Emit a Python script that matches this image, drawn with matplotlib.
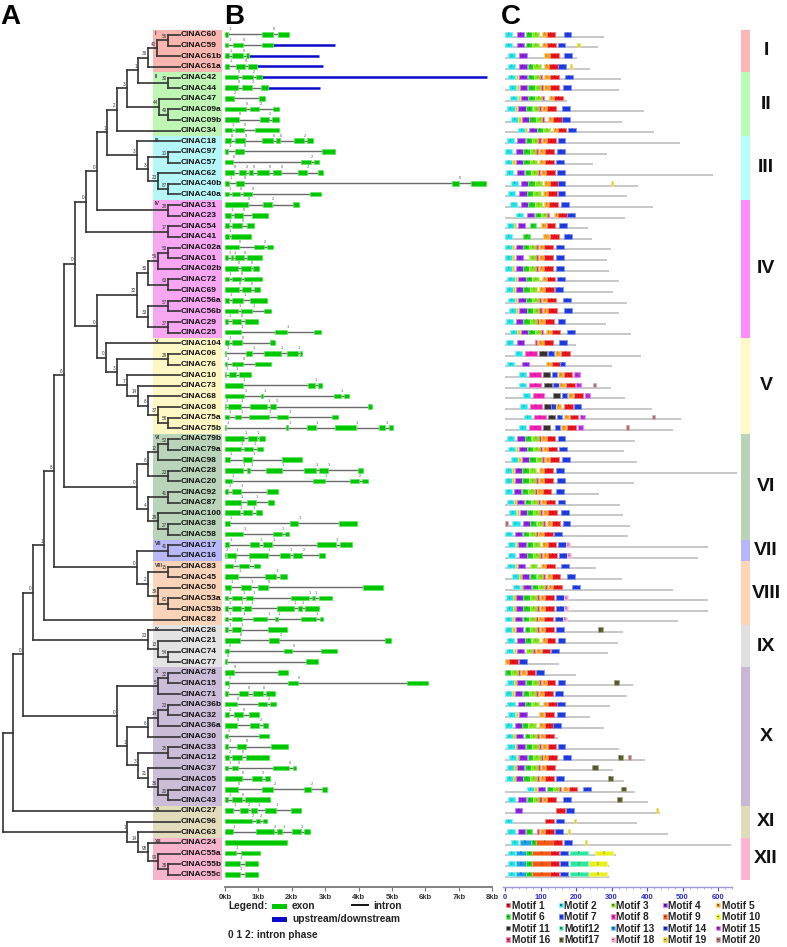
import matplotlib
matplotlib.use("Agg")
import matplotlib.pyplot as plt
from matplotlib.patches import Rectangle
from matplotlib.colors import to_rgb

plt.rcParams["font.family"] = ["Liberation Sans", "DejaVu Sans"]

W, H = 787, 947
ROW0, ROWH = 35.0, 10.63          # pixel y of first gene row, row pitch
PANEL_TOP, PANEL_BOT = 25, 887
KB0_PX, PX_PER_KB = 225.0, 33.4   # panel B scale
AA0_PX, PX_PER_AA = 505.0, 0.355  # panel C scale

# --- tree (newick-like, internal node label = "bootstrap@depth") ---
CL_I = "(((CINAC60,CINAC59)56@168,CINAC61b)40@157,CINAC61a)36@148"
CL_II = "(CINAC47,(CINAC09a,CINAC09b)49@168)44@159"
CL_III = ("(CINAC18,((CINAC97,CINAC57)10@168,(CINAC62,(CINAC40b,CINAC40a)87@168)23@158)3@148)3@137")
TOP = ("((((((" + CL_I + ",(CINAC42,CINAC44)30@168)1@138," + CL_II + ")3@127,CINAC34)2@117,"
       + CL_III + ")1@107,(CINAC31,CINAC23)28@168)0@97,(CINAC54,CINAC41)17@168)0@86")
CL_IV = ("((((CINAC02a,CINAC01)53@168,CINAC02b)59@158,(CINAC72,CINAC69)63@168)30@148,"
         "((CINAC56a,CINAC56b)57@168,(CINAC29,CINAC25)37@168)33@148)32@137")
CL_V = ("(CINAC104,((CINAC06,CINAC76)29@168,(CINAC10,(CINAC73,(CINAC68,(CINAC08,"
        "(CINAC75a,CINAC75b)58@168)37@158)6@148)14@138)7@127)3@117)0@106")
CL_VI = ("((((CINAC79b,CINAC79a)52@168,CINAC98)12@158,(CINAC28,CINAC20)23@168)6@148,"
         "((CINAC92,CINAC87)41@168,(CINAC100,(CINAC38,CINAC58)27@168)29@158)4@148)0@137")
CL_VIII = ("((CINAC17,CINAC16)41@168,((CINAC83,CINAC45)15@168,(CINAC50,"
           "(CINAC53a,CINAC53b)62@168)39@158)2@148)0@137")
CL_IX = "(CINAC26,(CINAC21,(CINAC74,CINAC77)54@168)13@158)23@148"
CL_X = ("(((CINAC78,CINAC15)32@168,CINAC71)5@158,((((CINAC36b,CINAC32)23@168,CINAC36a)14@158,"
        "CINAC30)6@148,((CINAC33,CINAC12)25@168,(CINAC37,(CINAC05,(CINAC07,CINAC43)20@168)36@158)"
        "21@148)3@138)1@127)0@117")
CL_XII = ("(CINAC96,(CINAC63,(CINAC24,(CINAC55a,(CINAC55b,CINAC55c)35@168)99@158)98@148)14@138)1@127")
TREE = ("((((((((" + TOP + ",(" + CL_IV + "," + CL_V + ")0@97)0@75," + CL_VI + ")6@64," + CL_VIII
        + ")8@54,CINAC82)1@44," + CL_IX + ")0@33," + CL_X + ")0@23,CINAC27)@13," + CL_XII + ")@3")
LEAF_X = 180

GROUPS = ["I", "II", "III", "IV", "V", "VI", "VII", "VIII", "IX", "X", "XI", "XII"]
GROUP_SIZES = [4, 6, 6, 13, 9, 10, 2, 6, 4, 13, 3, 4]
TREE_BG = ["#f9b5b0", "#bff5b5", "#b5f6f6", "#f7a6f2", "#fdf7c4", "#bad4ba",
           "#b8b8f8", "#f9d4b8", "#e3e3e3", "#cbbcd8", "#e2dcbc", "#f7b3cc"]
BAR_COLORS = ["#ffb6b6", "#b8fdb8", "#b8fcfc", "#ff8cfc", "#fffac4", "#b9d3b9",
              "#b6b6fc", "#fdd4b8", "#e0e0e0", "#c8b8d6", "#e0dcb8", "#fdb6d2"]

# --- panel B: exons (kb), intron phases, upstream/downstream (kb) ---
EXONS = {
    "CINAC60": [(0, .1), (1.1, 1.43), (1.58, 1.93)],
    "CINAC59": [(0, .1), (.25, .53), (1.12, 1.45)],
    "CINAC61b": [(0, .13), (.22, .53), (.63, .73)],
    "CINAC61a": [(0, .13), (.33, .6), (.7, .97)],
    "CINAC42": [(0, .4), (.52, .83), (.92, 1.1)],
    "CINAC44": [(0, .4), (.5, .8), (1.08, 1.28)],
    "CINAC47": [(0, .27), (1.02, 1.2)],
    "CINAC09a": [(0, .63), (.75, 1.03), (1.45, 1.63)],
    "CINAC09b": [(0, .43), (1.05, 1.32), (1.41, 1.62)],
    "CINAC34": [(0, .2), (.3, .57), (.9, 1.63)],
    "CINAC18": [(0, .18), (.3, .6), (1.12, 1.45), (1.53, 1.65), (2.08, 2.37), (2.45, 2.62)],
    "CINAC97": [(0, .1), (.29, .57), (2.9, 3.3)],
    "CINAC57": [(0, .25), (2.28, 2.58), (2.65, 2.8)],
    "CINAC62": [(0, .28), (.43, .63), (.73, .83), (.97, 1.33), (1.43, 1.68), (2.18, 2.45), (2.77, 2.93)],
    "CINAC40b": [(0, .13), (.32, .57), (6.8, 7.0), (7.37, 7.82)],
    "CINAC40a": [(0, .12), (.22, .45), (.55, .82), (2.55, 2.87)],
    "CINAC31": [(0, .7), (1.13, 1.4), (2.03, 2.23)],
    "CINAC23": [(0, .18), (.28, .55), (.8, 1.28)],
    "CINAC54": [(0, .12), (.22, .52), (.65, .88)],
    "CINAC41": [(0, .12), (.18, .77)],
    "CINAC02a": [(0, .42), (.87, 1.17), (1.27, 1.43)],
    "CINAC01": [(0, .1), (.18, .25), (.3, .58), (.67, 1.1)],
    "CINAC02b": [(0, .4), (.48, .77), (.85, 1.02)],
    "CINAC72": [(0, .12), (.22, .48), (.58, 1.1)],
    "CINAC69": [(0, .42), (.5, .78), (.88, 1.05)],
    "CINAC56a": [(0, .13), (.22, .55), (.75, 1.27)],
    "CINAC56b": [(0, .4), (.48, .82), (1.18, 1.37)],
    "CINAC29": [(0, .1), (.2, .48), (.6, 1.0)],
    "CINAC25": [(0, .47), (1.5, 1.85), (2.66, 2.87)],
    "CINAC104": [(0, .12), (.22, .52), (1.35, 1.5)],
    "CINAC06": [(0, .04), (.63, .82), (1.17, 1.68), (1.85, 2.18), (2.25, 2.32)],
    "CINAC76": [(0, .06), (.22, .53), (.9, 1.38)],
    "CINAC10": [(0, .03), (.13, .32), (.42, .77)],
    "CINAC73": [(0, .53), (2.48, 2.68), (2.77, 2.9)],
    "CINAC68": [(0, .58), (1.08, 1.15), (3.27, 3.47), (3.55, 3.7)],
    "CINAC08": [(0, .04), (.1, .48), (.75, 1.27), (1.35, 1.53), (4.27, 4.4)],
    "CINAC75a": [(0, .12), (.3, .48), (.73, 1.32), (1.55, 1.9), (3.2, 3.37)],
    "CINAC75b": [(0, .04), (1.83, 1.9), (2.46, 2.72), (3.28, 3.93), (4.62, 4.8), (4.91, 5.03)],
    "CINAC79b": [(0, .58), (.68, .95), (1.03, 1.2)],
    "CINAC79a": [(0, .48), (.58, .85), (.95, 1.15)],
    "CINAC98": [(0, .15), (.53, .82), (1.7, 2.32)],
    "CINAC28": [(0, .53), (.65, .76), (1.22, 1.7), (2.38, 2.72), (2.8, 3.08), (3.98, 4.13)],
    "CINAC20": [(0, .2), (2.63, 3.0), (3.73, 4.02), (4.1, 4.27)],
    "CINAC92": [(0, .1), (.2, .48), (1.25, 1.6)],
    "CINAC87": [(0, .47), (.65, .93), (1.3, 1.47)],
    "CINAC100": [(0, .45), (.55, .82), (.92, 1.1)],
    "CINAC38": [(0, .15), (1.95, 2.2), (3.4, 3.95)],
    "CINAC58": [(0, .55), (1.43, 1.7), (1.8, 1.93)],
    "CINAC17": [(0, .13), (.75, 1.03), (1.15, 1.42), (2.75, 3.32), (3.45, 3.8)],
    "CINAC16": [(0, .02), (.05, .32), (.72, 1.28), (1.65, 1.95), (2.03, 2.32), (2.8, 2.98)],
    "CINAC83": [(0, .25), (.43, .72), (.87, 1.05)],
    "CINAC45": [(0, .4), (1.2, 1.53), (1.65, 1.87)],
    "CINAC50": [(0, .18), (.48, .78), (1.0, 1.3), (4.13, 4.73)],
    "CINAC53a": [(0, .1), (.22, .52), (.63, .83), (1.98, 2.52), (2.6, 2.7), (2.8, 3.2)],
    "CINAC53b": [(0, .1), (.2, .48), (.57, .77), (1.55, 2.07), (2.19, 2.3), (2.4, 2.82)],
    "CINAC82": [(0, .1), (.22, .52), (.85, 1.27), (1.5, 1.58), (2.28, 2.73), (2.85, 2.92)],
    "CINAC26": [(0, .1), (.2, .48), (1.28, 1.85)],
    "CINAC21": [(0, .45), (1.33, 1.63), (4.8, 4.97)],
    "CINAC74": [(0, .13), (1.78, 2.02), (2.88, 3.35)],
    "CINAC77": [(0, .07), (2.43, 2.77)],
    "CINAC78": [(0, .27), (1.6, 1.88)],
    "CINAC15": [(0, .13), (1.9, 2.18), (5.45, 6.07)],
    "CINAC71": [(0, .1), (.42, .7), (.83, 1.15), (1.23, 1.5)],
    "CINAC36b": [(0, .37), (1.0, 1.27), (1.35, 1.53)],
    "CINAC32": [(0, .13), (.28, .55), (.72, 1.02)],
    "CINAC36a": [(0, .35), (.75, 1.03), (1.13, 1.28)],
    "CINAC30": [(0, .1), (1.02, 1.32)],
    "CINAC33": [(0, .1), (.35, .63), (1.37, 1.88)],
    "CINAC12": [(0, .13), (.22, .5), (.62, 1.33)],
    "CINAC37": [(0, .1), (.2, .38), (1.43, 1.92), (2.03, 2.12)],
    "CINAC05": [(0, .52), (.82, 1.1), (1.2, 1.35)],
    "CINAC07": [(0, .38), (1.12, 1.45), (2.38, 2.57), (2.9, 3.05)],
    "CINAC43": [(0, .1), (.22, .5), (.6, 1.35)],
    "CINAC27": [(0, .25), (.45, .68), (.78, .97), (1.2, 1.53), (1.98, 2.27)],
    "CINAC96": [(0, .8), (.92, 1.05), (1.15, 1.27)],
    "CINAC63": [(0, .23), (.93, 1.47), (1.57, 1.72), (2.02, 2.27), (2.37, 2.53)],
    "CINAC24": [(0, 1.87)],
    "CINAC55a": [(0, .33), (.48, 1.05)],
    "CINAC55b": [(0, .45), (.6, 1.0)],
    "CINAC55c": [(0, .45), (.6, 1.0)],
}
PHASES = {
    "CINAC60": "10", "CINAC59": "10", "CINAC61b": "10", "CINAC61a": "10", "CINAC42": "02",
    "CINAC44": "02", "CINAC47": "2", "CINAC09a": "02", "CINAC09b": "02", "CINAC34": "10",
    "CINAC18": "00002", "CINAC97": "10", "CINAC57": "02", "CINAC62": "020002", "CINAC40b": "100",
    "CINAC40a": "100", "CINAC31": "02", "CINAC23": "10", "CINAC54": "10", "CINAC41": "1",
    "CINAC02a": "02", "CINAC01": "110", "CINAC02b": "00", "CINAC72": "10", "CINAC69": "00",
    "CINAC56a": "11", "CINAC56b": "11", "CINAC29": "10", "CINAC25": "11", "CINAC104": "10",
    "CINAC06": "1111", "CINAC76": "10", "CINAC10": "11", "CINAC73": "11", "CINAC68": "111",
    "CINAC08": "2112", "CINAC75a": "1111", "CINAC75b": "11111", "CINAC79b": "11", "CINAC79a": "11",
    "CINAC98": "11", "CINAC28": "11111", "CINAC20": "112", "CINAC92": "11", "CINAC87": "11",
    "CINAC100": "11", "CINAC38": "11", "CINAC58": "11", "CINAC17": "1111", "CINAC16": "21112",
    "CINAC83": "11", "CINAC45": "11", "CINAC50": "110", "CINAC53a": "11111", "CINAC53b": "11111",
    "CINAC82": "11111", "CINAC26": "11", "CINAC21": "02", "CINAC74": "20", "CINAC77": "0",
    "CINAC78": "0", "CINAC15": "20", "CINAC71": "200", "CINAC36b": "02", "CINAC32": "20",
    "CINAC36a": "02", "CINAC30": "2", "CINAC33": "10", "CINAC12": "20", "CINAC37": "100",
    "CINAC05": "02", "CINAC07": "022", "CINAC43": "10", "CINAC27": "1211", "CINAC96": "22",
    "CINAC63": "1212", "CINAC24": "", "CINAC55a": "1", "CINAC55b": "1", "CINAC55c": "1",
}
FLANK = {"CINAC59": (1.45, 3.3), "CINAC61b": (.73, 2.8), "CINAC61a": (.97, 2.93),
         "CINAC42": (1.1, 7.83), "CINAC44": (1.28, 2.85)}

# --- panel C: protein length (aa) and motif hits "motif:start" ---
MOTIF_COLORS = ["#e8141b", "#22e4e8", "#88e41c", "#8a22e0", "#f8a820", "#1ed21e", "#1e3ce0",
                "#f020b4", "#f25a14", "#e8f020", "#3a3232", "#2ee8a0", "#1ea0e8", "#2240f0",
                "#c030e0", "#e8306c", "#5e5e2e", "#f0a4d4", "#e8c818", "#b06e6e"]
MOTIF_WIDTH = [24, 20, 20, 21, 15, 18, 22, 33, 50, 50, 20, 50, 30, 15, 15, 6, 15, 12, 7, 8]
PROT_LEN = {
    "CINAC60": 280, "CINAC59": 261, "CINAC61b": 202, "CINAC61a": 240, "CINAC42": 326,
    "CINAC44": 320, "CINAC47": 174, "CINAC09a": 392, "CINAC09b": 329, "CINAC34": 420,
    "CINAC18": 494, "CINAC97": 286, "CINAC57": 247, "CINAC62": 585, "CINAC40b": 376,
    "CINAC40a": 343, "CINAC31": 416, "CINAC23": 338, "CINAC54": 235, "CINAC41": 244,
    "CINAC02a": 298, "CINAC01": 287, "CINAC02b": 294, "CINAC72": 322, "CINAC69": 303,
    "CINAC56a": 343, "CINAC56b": 320, "CINAC29": 285, "CINAC25": 355, "CINAC104": 200,
    "CINAC06": 383, "CINAC76": 301, "CINAC10": 211, "CINAC73": 299, "CINAC68": 338,
    "CINAC08": 414, "CINAC75a": 496, "CINAC75b": 473, "CINAC79b": 365, "CINAC79a": 334,
    "CINAC98": 371, "CINAC28": 653, "CINAC20": 364, "CINAC92": 265, "CINAC87": 324,
    "CINAC100": 332, "CINAC38": 353, "CINAC58": 346, "CINAC17": 571, "CINAC16": 545,
    "CINAC83": 257, "CINAC45": 329, "CINAC50": 473, "CINAC53a": 571, "CINAC53b": 571,
    "CINAC82": 486, "CINAC26": 331, "CINAC21": 318, "CINAC74": 289, "CINAC77": 152,
    "CINAC78": 199, "CINAC15": 360, "CINAC71": 343, "CINAC36b": 296, "CINAC32": 240,
    "CINAC36a": 279, "CINAC30": 150, "CINAC33": 322, "CINAC12": 393, "CINAC37": 305,
    "CINAC05": 336, "CINAC07": 367, "CINAC43": 404, "CINAC27": 438, "CINAC96": 371,
    "CINAC63": 460, "CINAC24": 636, "CINAC55a": 312, "CINAC55b": 294, "CINAC55c": 294,
}
MOTIFS = {
    "CINAC60": "2:0 4:33 6:58 3:75 5:103 1:117 7:165",
    "CINAC59": "2:0 4:33 6:58 3:75 5:103 1:119 7:148 19:204",
    "CINAC61b": "2:8 4:40 5:111 1:127 7:166",
    "CINAC61a": "2:8 4:40 6:64 3:80 5:110 1:125 7:150 19:183",
    "CINAC42": "2:9 19:31 4:40 6:64 3:83 16:99 5:111 1:127 7:169",
    "CINAC44": "2:11 19:33 4:42 6:66 3:85 16:101 5:111 1:127 7:163",
    "CINAC47": "2:14 19:36 4:44 6:66 3:85 16:103 5:124 1:138",
    "CINAC09a": "2:7 19:28 4:38 6:59 3:78 16:96 5:105 1:119 7:160",
    "CINAC09b": "2:17 19:38 4:47 6:69 3:87 16:103 5:122 1:136 7:160",
    "CINAC34": "2:38 19:56 4:68 6:89 3:108 5:134 1:148 7:177",
    "CINAC18": "2:5 4:35 6:58 3:77 16:94 5:105 1:119 7:148",
    "CINAC97": "2:0 4:30 6:52 3:70 16:87 5:97 1:113 7:146",
    "CINAC57": "2:0 19:21 4:30 6:52 3:70 5:97 1:113 7:143",
    "CINAC62": "2:3 4:33 6:55 3:73 16:92 5:101 1:116 7:146",
    "CINAC40b": "2:16 4:45 6:66 3:85 5:111 1:127 7:148 19:298",
    "CINAC40a": "2:9 4:40 6:61 3:80 5:108 1:122 7:148",
    "CINAC31": "2:14 4:44 6:66 3:85 5:111 1:125 7:157",
    "CINAC23": "2:30 4:61 6:85 3:102 16:119 5:139 1:150 7:176",
    "CINAC54": "2:7 19:25 4:36 6:70 5:101 1:117 7:153",
    "CINAC41": "2:0 6:52 5:108 1:127 7:167",
    "CINAC02a": "2:0 19:19 4:30 6:52 3:69 16:86 5:96 1:110 7:143",
    "CINAC01": "2:0 19:19 4:30 3:69 16:86 5:96 1:110 7:144",
    "CINAC02b": "2:0 19:19 4:30 6:52 3:69 16:86 5:96 1:110 7:143",
    "CINAC72": "2:7 19:28 4:38 6:59 3:75 5:103 1:117 7:146",
    "CINAC69": "2:2 19:22 4:31 6:52 3:70 5:97 1:113 7:141",
    "CINAC56a": "2:9 19:28 4:38 6:59 3:77 16:95 5:105 1:119 7:163",
    "CINAC56b": "2:11 19:31 4:40 6:61 3:80 16:97 5:108 1:122 7:167",
    "CINAC29": "2:3 4:31 6:52 3:70 16:89 5:97 1:113 7:148",
    "CINAC25": "2:14 19:35 4:44 6:66 3:85 16:102 5:116 1:132 7:176",
    "CINAC104": "2:3 4:33 16:85 5:94 1:110 7:152",
    "CINAC06": "2:28 8:56 11:97 14:122 5:141 1:158",
    "CINAC76": "2:5 4:47 5:116 1:132 14:155",
    "CINAC10": "2:40 8:68 11:108 14:132 5:149 1:166 15:195",
    "CINAC73": "2:40 8:69 11:111 14:136 5:153 1:172 15:200 20:247",
    "CINAC68": "2:50 8:78 11:136 14:160 5:177 1:195 15:224",
    "CINAC08": "2:42 8:70 11:110 14:129 5:143 1:167 7:193",
    "CINAC75a": "2:54 8:82 11:122 14:146 5:165 1:183 15:211 20:415",
    "CINAC75b": "2:40 8:69 11:108 14:141 5:158 1:176 15:205 20:341",
    "CINAC79b": "2:5 4:35 6:56 3:75 16:95 5:102 1:117 7:148",
    "CINAC79a": "2:9 19:30 4:40 6:61 3:80 16:99 5:106 1:122 7:153",
    "CINAC98": "2:16 19:38 4:47 6:68 3:87 16:103 5:113 1:127 7:160",
    "CINAC28": "2:0 19:19 4:28 6:49 3:68 5:97 1:111 7:143",
    "CINAC20": "2:0 19:19 4:28 6:49 3:68 16:87 5:97 1:111 7:146",
    "CINAC92": "2:0 4:25 6:47 3:64 16:85 5:91 1:106 7:143",
    "CINAC87": "2:5 19:26 4:33 6:55 3:72 16:92 5:101 1:116 7:148",
    "CINAC100": "2:11 19:33 4:42 6:63 3:80 16:99 5:108 1:122 7:157",
    "CINAC38": "20:0 2:21 4:50 6:70 3:89 16:108 5:117 1:132 7:162",
    "CINAC58": "2:0 4:28 6:50 3:69 16:87 5:94 1:110 7:139",
    "CINAC17": "2:9 19:31 4:38 6:61 3:78 5:105 1:120 7:150 18:172",
    "CINAC16": "2:9 4:40 6:61 3:80 16:99 5:108 1:122 7:153 18:174",
    "CINAC83": "2:7 19:28 4:36 3:70 5:101 1:116 7:158",
    "CINAC45": "2:19 19:40 4:47 6:70 3:89 16:108 5:117 1:132 7:174",
    "CINAC50": "2:23 19:45 4:52 6:75 3:94 16:113 5:120 1:136 7:188",
    "CINAC53a": "2:2 19:23 4:31 6:52 3:70 16:91 5:99 1:113 7:144 18:166",
    "CINAC53b": "2:2 19:23 4:31 6:52 3:70 16:91 5:99 1:113 7:144 18:166",
    "CINAC82": "2:0 19:19 4:28 6:50 3:69 16:87 5:94 1:110 7:141 18:163",
    "CINAC26": "2:0 19:21 4:30 6:55 3:70 16:89 5:99 1:113 7:143 17:261",
    "CINAC21": "2:5 4:35 6:56 3:75 5:103 1:117 7:148",
    "CINAC74": "2:3 19:24 4:33 3:58 16:78 5:87 1:103 7:130",
    "CINAC77": "5:0 1:12 7:39",
    "CINAC78": "6:0 3:17 16:36 5:45 1:61 7:87",
    "CINAC15": "2:5 19:26 4:35 6:59 3:75 16:96 5:103 1:117 7:148 17:307",
    "CINAC71": "2:0 19:19 4:28 6:52 3:69 16:86 5:96 1:111 7:141",
    "CINAC36b": "2:7 4:38 6:56 3:75 5:108 1:122 7:146",
    "CINAC32": "2:9 19:30 4:40 5:96 1:113 7:146",
    "CINAC36a": "2:0 4:28 6:49 3:66 5:97 1:113 7:136",
    "CINAC30": "2:2 19:23 4:31 6:55 3:70 16:91 5:99 1:113",
    "CINAC33": "2:7 19:28 4:35 6:59 3:75 16:96 5:103 1:120 7:148",
    "CINAC12": "2:11 19:33 4:40 6:64 3:80 16:100 5:108 1:122 7:163 17:318 20:346",
    "CINAC37": "2:5 19:26 4:33 6:56 3:73 16:92 5:101 1:116 17:246",
    "CINAC05": "2:2 19:23 4:31 6:52 3:70 16:89 5:99 1:113 7:143 17:289",
    "CINAC07": "2:63 19:83 4:92 6:117 3:136 16:153 5:163 1:179 7:221 17:327",
    "CINAC43": "2:8 4:38 6:61 3:80 16:97 5:103 1:119 7:164 17:315",
    "CINAC27": "4:28 1:144 7:172 19:425",
    "CINAC96": "2:0 1:113 7:143 19:193",
    "CINAC63": "2:7 4:36 6:58 16:89 5:99 1:113 7:141 19:177",
    "CINAC24": "2:17 13:42 6:72 9:87 1:136 7:166 19:225",
    "CINAC55a": "2:8 13:30 6:59 9:77 1:127 7:155 12:183 10:254",
    "CINAC55b": "2:8 13:30 6:59 9:77 1:127 7:155 12:183 10:237",
    "CINAC55c": "2:8 13:30 6:59 9:77 1:127 7:155 12:183 10:237",
}
MOTIF_NAMES = ["Motif 1", "Motif 2", "Motif 3", "Motif 4", "Motif 5", "Motif 6", "Motif 7",
               "Motif 8", "Motif 9", "Motif 10", "Motif 11", "Motif12", "Motif 13", "Motif 14",
               "Motif 15", "Motif 16", "Motif17", "Motif 18", "Motif 19", "Motif 20"]
LEG_X = [508, 561, 613, 665, 718]
LEG_Y = [905, 916.5, 928, 939.5]

LINE = "#333333"


def parse_tree(s):
    pos = 0

    def node():
        nonlocal pos
        if s[pos] == "(":
            pos += 1
            kids = [node()]
            while s[pos] == ",":
                pos += 1
                kids.append(node())
            pos += 1
            start = pos
            while pos < len(s) and s[pos] not in ",)":
                pos += 1
            bs, x = s[start:pos].split("@")
            return {"kids": kids, "bs": bs, "x": float(x)}
        start = pos
        while s[pos] not in ",)":
            pos += 1
        return {"name": s[start:pos]}

    return node()


def lighten(c, f=0.45):
    r, g, b = to_rgb(c)
    return (r + (1 - r) * f, g + (1 - g) * f, b + (1 - b) * f)


def darken(c, f=0.55):
    r, g, b = to_rgb(c)
    return (r * f, g * f, b * f)


fig = plt.figure(figsize=(W / 100, H / 100), dpi=100)


def px_axes(x0, x1, y0=PANEL_TOP, y1=PANEL_BOT):
    ax = fig.add_axes([x0 / W, 1 - y1 / H, (x1 - x0) / W, (y1 - y0) / H])
    ax.set_ylim((y1 - ROW0) / ROWH, (y0 - ROW0) / ROWH)
    return ax


# --- A: tree ---
ax_t = px_axes(0, 225)
ax_t.set_xlim(0, 225)
ax_t.axis("off")

tree = parse_tree(TREE)
leaves = []


def draw(n):
    if "name" in n:
        y = len(leaves)
        leaves.append(n["name"])
        ax_t.text(LEAF_X + 1, y, n["name"], fontsize=6, fontweight="bold",
                  va="center", ha="left", color="#111111", zorder=3)
        return LEAF_X, y
    pts = [draw(k) for k in n["kids"]]
    x = n["x"]
    ys = [p[1] for p in pts]
    for cx, cy in pts:
        ax_t.plot([x, cx], [cy, cy], color=LINE, lw=1.2, solid_capstyle="projecting", zorder=2)
    ax_t.plot([x, x], [min(ys), max(ys)], color=LINE, lw=1.2, solid_capstyle="projecting", zorder=2)
    y = (ys[0] + ys[-1]) / 2
    if n["bs"]:
        ax_t.text(x - 1.2, y - 0.38, n["bs"], fontsize=3.3, ha="right", va="center",
                  color="#333333", zorder=3)
    return x, y


draw(tree)

start = 0
for g, size, bg in zip(GROUPS, GROUP_SIZES, TREE_BG):
    ax_t.add_patch(Rectangle((153, start - 0.5), 69, size, facecolor=bg, edgecolor="none", zorder=0))
    ax_t.text(154.5, start - 0.12, g, fontsize=3.8, fontweight="bold", ha="left", va="center",
              color="#333333", zorder=3)
    start += size

# --- B: gene structure ---
ax_g = px_axes(222, 495)
ax_g.set_xlim((222 - KB0_PX) / PX_PER_KB, (495 - KB0_PX) / PX_PER_KB)
for r, name in enumerate(leaves):
    ex = EXONS[name]
    yc = r - 0.05
    ax_g.plot([ex[0][0], ex[-1][1]], [yc, yc], color="#6a6a6a", lw=1.0, zorder=1)
    if name in FLANK:
        s, e = FLANK[name]
        ax_g.plot([s, e], [yc, yc], color="#0a0ac8", lw=1.8, solid_capstyle="butt", zorder=2)
    for s, e in ex:
        ax_g.add_patch(Rectangle((s, yc - 0.22), e - s, 0.44, facecolor="#00c800",
                                 edgecolor="#5ee65e", lw=0.5, zorder=3))
    for (s, e), ph in zip(ex, PHASES[name]):
        ax_g.text(e + 0.03, yc - 0.3, ph, fontsize=2.8, ha="center", va="bottom",
                  color="#555555", zorder=4)
for sp in ("left", "top", "right"):
    ax_g.spines[sp].set_visible(False)
ax_g.spines["bottom"].set_bounds(0, 8)
ax_g.spines["bottom"].set_color("#777777")
ax_g.spines["bottom"].set_linewidth(1.3)
ax_g.set_yticks([])
ax_g.set_xticks(range(9))
ax_g.set_xticklabels([f"{k}kb" for k in range(9)], fontsize=5.5, fontweight="bold", color="#333333")
ax_g.tick_params(axis="x", length=3, width=0.8, color="#777777", pad=2)
ax_g.patch.set_alpha(0)

# --- C: motifs ---
ax_m = px_axes(495, 740)
ax_m.set_xlim((495 - AA0_PX) / PX_PER_AA, (740 - AA0_PX) / PX_PER_AA)
for r, name in enumerate(leaves):
    ax_m.plot([0, PROT_LEN[name]], [r + 0.17, r + 0.17], color="#c4c4c4", lw=1.3,
              solid_capstyle="butt", zorder=1)
    for tok in MOTIFS[name].split():
        m, s = tok.split(":")
        m = int(m) - 1
        ax_m.add_patch(Rectangle((int(s), r - 0.28), MOTIF_WIDTH[m], 0.44,
                                 facecolor=MOTIF_COLORS[m], edgecolor=lighten(MOTIF_COLORS[m]),
                                 lw=0.6, zorder=2))
        if MOTIF_WIDTH[m] >= 12:
            ax_m.text(int(s) + MOTIF_WIDTH[m] / 2, r - 0.06, str(m + 1), fontsize=1.8,
                      ha="center", va="center", color=darken(MOTIF_COLORS[m]), zorder=3)
for sp in ("left", "top", "right"):
    ax_m.spines[sp].set_visible(False)
ax_m.spines["bottom"].set_bounds(-5, 640)
ax_m.spines["bottom"].set_color("#9a9ad8")
ax_m.spines["bottom"].set_linewidth(1.0)
ax_m.spines["bottom"].set_linestyle((0, (1, 1)))
ax_m.set_yticks([])
ax_m.set_xticks(range(0, 601, 100))
ax_m.set_xticks(range(0, 641, 20), minor=True)
ax_m.set_xticklabels([str(v) for v in range(0, 601, 100)], fontsize=5.5, fontweight="bold",
                     color="#2a2ad8")
ax_m.tick_params(axis="x", which="major", length=3, width=0.8, color="#4a4ae0", pad=2)
ax_m.tick_params(axis="x", which="minor", length=1.5, width=0.5, color="#8a8ae0")
ax_m.patch.set_alpha(0)

# --- group bars ---
ax_b = px_axes(738, 787)
ax_b.set_xlim(738, 787)
ax_b.axis("off")
start = 0
for g, size, c in zip(GROUPS, GROUP_SIZES, BAR_COLORS):
    ax_b.add_patch(Rectangle((741, start - 0.5), 9, size, facecolor=c, edgecolor="none"))
    ax_b.text(766, start - 0.5 + size / 2, g, fontsize=14, fontweight="bold",
              ha="center", va="center", color="#111111")
    start += size

# --- overlay: panel letters and legends ---
ax_o = fig.add_axes([0, 0, 1, 1])
ax_o.set_xlim(0, W)
ax_o.set_ylim(H, 0)
ax_o.axis("off")
ax_o.patch.set_alpha(0)
for letter, lx in (("A", 0), ("B", 224), ("C", 501)):
    ax_o.text(lx, 24, letter, fontsize=20, fontweight="bold", va="baseline", ha="left")

ax_o.text(228, 906, "Legend:", fontsize=7.3, fontweight="bold", va="center", color="#222222")
ax_o.add_patch(Rectangle((272, 903.5), 15, 5, facecolor="#00c800", edgecolor="none"))
ax_o.text(292, 906, "exon", fontsize=7.3, fontweight="bold", va="center", color="#222222")
ax_o.plot([352, 368], [905, 905], color="#111111", lw=1.4)
ax_o.text(373, 906, "intron", fontsize=7.3, fontweight="bold", va="center", color="#222222")
ax_o.add_patch(Rectangle((272, 917), 15, 4.5, facecolor="#0a0ac8", edgecolor="none"))
ax_o.text(292, 919, "upstream/downstream", fontsize=7.3, fontweight="bold", va="center", color="#222222")
ax_o.text(228, 935, "0 1 2: intron phase", fontsize=7.3, fontweight="bold", va="center", color="#222222")

for i, (lab, c) in enumerate(zip(MOTIF_NAMES, MOTIF_COLORS)):
    x, y = LEG_X[i % 5], LEG_Y[i // 5]
    ax_o.add_patch(Rectangle((x - 2.3, y - 2.3), 4.6, 4.6, facecolor=c, edgecolor=lighten(c), lw=0.5))
    ax_o.add_patch(Rectangle((x - 0.8, y - 0.8), 1.6, 1.6, facecolor=darken(c), edgecolor="none"))
    ax_o.text(x + 3.5, y + 0.5, lab, fontsize=7.3, fontweight="bold", va="center", ha="left",
              color="#222222")

fig.savefig("out.png", dpi=100)
